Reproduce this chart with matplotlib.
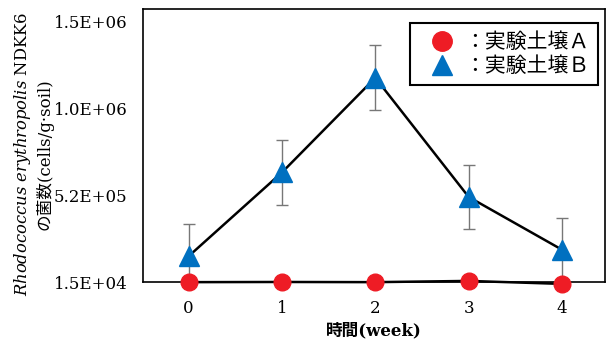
import numpy as np
import matplotlib
matplotlib.use('Agg')
import matplotlib.pyplot as plt
from matplotlib.lines import Line2D

plt.rcParams['font.family'] = ['DejaVu Serif', 'Noto Sans CJK JP']
plt.rcParams['mathtext.fontset'] = 'dejavuserif'

weeks = [0, 1, 2, 3, 4]
soil_a = [1.5e4, 1.6e4, 1.5e4, 2.2e4, 5.0e3]
soil_b = [1.63e5, 6.41e5, 1.181e6, 5.01e5, 2.0e5]
soil_b_err = [1.82e5, 1.85e5, 1.85e5, 1.85e5, 1.8e5]
series_names = ['：実験土壌Ａ', '：実験土壌Ｂ']
ytick_vals = [1.5e4, 5.1e5, 1.005e6, 1.5e6]
ytick_labels = ['1.5E+04', '5.2E+05', '1.0E+06', '1.5E+06']

red = '#EE1C25'
blue = '#0070C0'

fig = plt.figure(figsize=(6.08, 3.42), dpi=100)
ax = fig.add_axes([0.235, 0.175, 0.76, 0.799])

# error bars sit under the lines and markers
ax.errorbar(weeks, soil_b, yerr=soil_b_err, fmt='none', ecolor='#777777',
            elinewidth=1.0, capsize=4, capthick=1.0, zorder=2)
ax.plot(weeks, soil_b, color='black', lw=1.8, zorder=3)
ax.plot(weeks, soil_a, color='black', lw=1.8, zorder=3, clip_on=False)
ax.plot(weeks, soil_b, ls='none', marker='^', ms=14, color=blue, mec=blue, zorder=4)
ax.plot(weeks, soil_a, ls='none', marker='o', ms=12, color=red, mec=red,
        zorder=5, clip_on=False)

ax.set_xlim(-0.49, 4.46)
ax.set_ylim(1.5e4, 1.574e6)
ax.set_xticks(weeks)
ax.set_yticks(ytick_vals)
ax.set_yticklabels(ytick_labels)
ax.tick_params(axis='x', length=0, pad=13, labelsize=12)
ax.tick_params(axis='y', length=0, pad=11, labelsize=12)
for sp in ax.spines.values():
    sp.set_linewidth(1.2)

ax.set_xlabel('時間(week)', fontsize=12, fontweight='bold', labelpad=4)

fig.text(0.037, 0.55, r'$\mathit{Rhodococcus\ erythropolis}$ NDKK6',
         rotation=90, ha='center', va='center', fontsize=11.8)
fig.text(0.074, 0.55, 'の菌数(cells/g·soil)', rotation=90,
         ha='center', va='center', fontsize=12)

handles = [Line2D([], [], ls='none', marker='o', ms=14, color=red),
           Line2D([], [], ls='none', marker='^', ms=14, color=blue)]
leg = ax.legend(handles, series_names, loc='upper right',
                bbox_to_anchor=(0.985, 0.95), borderaxespad=0,
                frameon=True, fancybox=False,
                edgecolor='black', framealpha=1, handlelength=2.2,
                handletextpad=0.0, borderpad=0.4, labelspacing=0.1,
                prop={'family': ['Noto Sans CJK JP'], 'size': 15})
leg.get_frame().set_linewidth(1.5)

fig.savefig('out.png', dpi=100)
